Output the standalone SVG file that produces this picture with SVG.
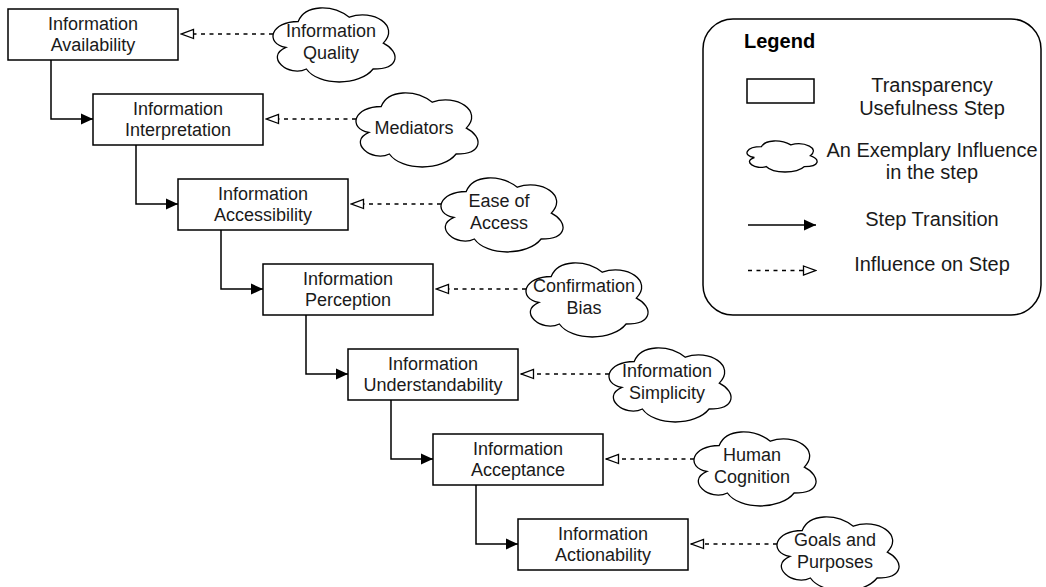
<svg xmlns="http://www.w3.org/2000/svg" xmlns:xlink="http://www.w3.org/1999/xlink" width="1046" height="587" viewBox="0 0 1046 587">
<style>
  .box { fill: #fff; stroke: #000; stroke-width: 1.5; }
  .cloud { fill: #fff; stroke: #000; stroke-width: 1.3; vector-effect: non-scaling-stroke; }
  .t { font-family: "Liberation Sans", Arial, Helvetica, sans-serif; font-size: 18px; fill: #1a1a1a; text-anchor: middle; }
  .lt { font-family: "Liberation Sans", Arial, Helvetica, sans-serif; font-size: 20px; fill: #1a1a1a; text-anchor: middle; }
  .lh { font-family: "Liberation Sans", Arial, Helvetica, sans-serif; font-size: 20px; font-weight: bold; fill: #000; }
  .step { fill: none; stroke: #000; stroke-width: 1.5; }
  .infl { fill: none; stroke: #000; stroke-width: 1.4; stroke-dasharray: 4 4.5; }
  .legend { fill: #fff; stroke: #000; stroke-width: 1.5; }
</style>
<defs>
  <path id="cloud" class="cloud" d="M25.2,13.5 C-2,13.5 -8.9,35.1 12.9,39.4 C-8.9,48.9 15.7,69.7 33.4,61 C45.6,78.3 86.5,78.3 100.1,61 C127.4,61 127.4,43.7 110.3,35.1 C127.4,17.8 100.1,0.5 76.3,9.2 C59.3,-3.8 32,-3.8 25.2,13.5 Z"/>
  <marker id="arrowSolid" viewBox="0 0 12 12" refX="12" refY="6" markerWidth="12" markerHeight="12" orient="auto" markerUnits="userSpaceOnUse">
    <path d="M0,0.5 L12,6 L0,11.5 Z" fill="#000"/>
  </marker>
  <marker id="arrowOpen" viewBox="0 0 15 12" refX="14" refY="6" markerWidth="15" markerHeight="12" orient="auto" markerUnits="userSpaceOnUse">
    <path d="M1.5,1.5 L13.5,6 L1.5,10.5 Z" fill="#fff" stroke="#000" stroke-width="1.3"/>
  </marker>
</defs>
<rect width="1046" height="587" fill="#fff"/>

<g id="connectors">
  <path class="step" d="M51,60 V119 H93" marker-end="url(#arrowSolid)"/>
  <path class="step" d="M136,145 V204 H178" marker-end="url(#arrowSolid)"/>
  <path class="step" d="M221,230 V289 H263" marker-end="url(#arrowSolid)"/>
  <path class="step" d="M306,315 V374 H348" marker-end="url(#arrowSolid)"/>
  <path class="step" d="M391,400 V459 H433" marker-end="url(#arrowSolid)"/>
  <path class="step" d="M476,485 V544 H518" marker-end="url(#arrowSolid)"/>
  <path class="infl" d="M273,34 H181" marker-end="url(#arrowOpen)"/>
  <path class="infl" d="M356,119 H266" marker-end="url(#arrowOpen)"/>
  <path class="infl" d="M441,204 H351" marker-end="url(#arrowOpen)"/>
  <path class="infl" d="M526,289 H436" marker-end="url(#arrowOpen)"/>
  <path class="infl" d="M609,374 H521" marker-end="url(#arrowOpen)"/>
  <path class="infl" d="M694,459 H606" marker-end="url(#arrowOpen)"/>
  <path class="infl" d="M777,544 H691" marker-end="url(#arrowOpen)"/>
</g>

<g id="step-availability">
  <rect class="box" x="8" y="9" width="170" height="51"/>
  <text class="t" x="93" y="29.5">Information</text>
  <text class="t" x="93" y="51">Availability</text>
</g>
<g id="step-interpretation">
  <rect class="box" x="93" y="94" width="170" height="51"/>
  <text class="t" x="178" y="114.5">Information</text>
  <text class="t" x="178" y="136">Interpretation</text>
</g>
<g id="step-accessibility">
  <rect class="box" x="178" y="179" width="170" height="51"/>
  <text class="t" x="263" y="199.5">Information</text>
  <text class="t" x="263" y="221">Accessibility</text>
</g>
<g id="step-perception">
  <rect class="box" x="263" y="264" width="170" height="51"/>
  <text class="t" x="348" y="284.5">Information</text>
  <text class="t" x="348" y="306">Perception</text>
</g>
<g id="step-understandability">
  <rect class="box" x="348" y="349" width="170" height="51"/>
  <text class="t" x="433" y="369.5">Information</text>
  <text class="t" x="433" y="391">Understandability</text>
</g>
<g id="step-acceptance">
  <rect class="box" x="433" y="434" width="170" height="51"/>
  <text class="t" x="518" y="454.5">Information</text>
  <text class="t" x="518" y="476">Acceptance</text>
</g>
<g id="step-actionability">
  <rect class="box" x="518" y="519" width="170" height="51"/>
  <text class="t" x="603" y="539.5">Information</text>
  <text class="t" x="603" y="561">Actionability</text>
</g>

<g id="influence-quality">
  <use xlink:href="#cloud" href="#cloud" x="273" y="8"/>
  <text class="t" x="331" y="37">Information</text>
  <text class="t" x="331" y="58.5">Quality</text>
</g>
<g id="influence-mediators">
  <use xlink:href="#cloud" href="#cloud" x="356" y="93"/>
  <text class="t" x="414" y="133.5">Mediators</text>
</g>
<g id="influence-ease">
  <use xlink:href="#cloud" href="#cloud" x="441" y="178"/>
  <text class="t" x="499" y="207">Ease of</text>
  <text class="t" x="499" y="228.5">Access</text>
</g>
<g id="influence-confirmation">
  <use xlink:href="#cloud" href="#cloud" x="526" y="263"/>
  <text class="t" x="584" y="292">Confirmation</text>
  <text class="t" x="584" y="313.5">Bias</text>
</g>
<g id="influence-simplicity">
  <use xlink:href="#cloud" href="#cloud" x="609" y="348"/>
  <text class="t" x="667" y="377">Information</text>
  <text class="t" x="667" y="398.5">Simplicity</text>
</g>
<g id="influence-cognition">
  <use xlink:href="#cloud" href="#cloud" x="694" y="432"/>
  <text class="t" x="752" y="461">Human</text>
  <text class="t" x="752" y="482.5">Cognition</text>
</g>
<g id="influence-goals">
  <use xlink:href="#cloud" href="#cloud" x="777" y="517"/>
  <text class="t" x="835" y="546">Goals and</text>
  <text class="t" x="835" y="567.5">Purposes</text>
</g>

<g id="legend">
  <rect class="legend" x="703" y="19" width="338" height="296" rx="30" ry="30"/>
  <text class="lh" x="744" y="48">Legend</text>
  <rect class="box" x="747" y="79" width="67" height="24"/>
  <text class="lt" x="932" y="92">Transparency</text>
  <text class="lt" x="932" y="115">Usefulness Step</text>
  <use xlink:href="#cloud" href="#cloud" transform="translate(747,141) scale(0.574,0.419)"/>
  <text class="lt" x="932" y="157">An Exemplary Influence</text>
  <text class="lt" x="932" y="179">in the step</text>
  <path class="step" d="M748,225 H816" marker-end="url(#arrowSolid)"/>
  <text class="lt" x="932" y="226">Step Transition</text>
  <path class="infl" d="M748,270.5 H816" marker-end="url(#arrowOpen)"/>
  <text class="lt" x="932" y="271">Influence on Step</text>
</g>
</svg>
